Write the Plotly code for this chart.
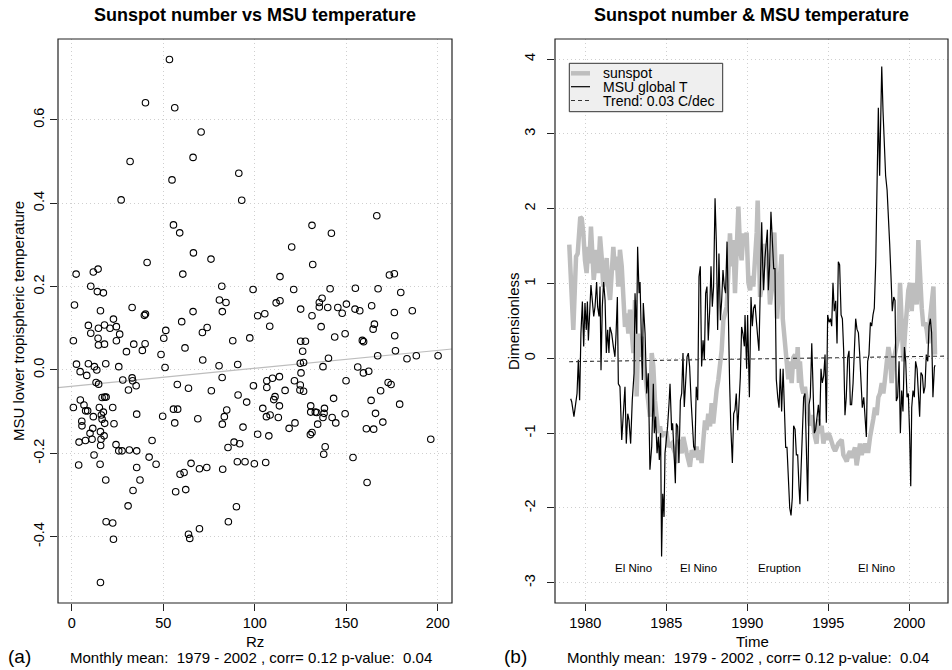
import plotly.graph_objects as go

W, H = 952, 670
FONT = "Liberation Sans, Arial, Helvetica, sans-serif"

# ---------------- Panel (a): scatter of Rz vs MSU temperature ----------------
rz = [53.4, 40.3, 56.3, 70.7, 66.3, 31.9, 54.8, 91.3, 27.0, 55.6, 59.0, 66.5, 76.1, 41.2, 2.4, 11.8,
      14.4, 60.7, 10.4, 14.0, 17.3, 82.0, 1.5, 80.7, 84.3, 15.7, 33.0, 66.3, 82.3, 39.7, 40.3, 22.8,
      9.1, 10.4, 14.6, 17.9, 20.9, 24.4, 26.2, 0.9, 14.4, 14.6, 17.9, 24.4, 29.9, 33.9, 38.6, 40.1,
      48.8, 50.3, 51.4, 60.1, 61.9, 71.4, 74.0, 71.6, 88.0, 80.5, 90.7, 2.6, 9.1, 12.4, 13.7, 4.6,
      8.2, 18.6, 25.7, 51.0, 27.9, 33.0, 33.3, 35.2, 31.0, 13.3, 14.7, 57.7, 63.8, 76.3, 82.2, 90.9,
      0.9, 4.7, 6.7, 7.6, 8.7, 15.1, 16.6, 18.0, 18.8, 11.8, 16.2, 17.3, 16.6, 18.0, 22.4, 23.1,
      35.5, 49.7, 55.6, 57.9, 56.3, 68.9, 82.3, 83.4, 84.7, 5.5, 5.6, 10.0, 11.5, 11.1, 7.5, 4.0,
      15.7, 17.7, 16.0, 15.8, 24.2, 25.7, 27.5, 31.5, 35.5, 43.9, 42.3, 46.1, 12.2, 3.8, 15.5, 35.5,
      18.6, 37.3, 33.5, 30.8, 56.8, 59.2, 61.4, 62.3, 65.2, 69.8, 73.8, 82.5, 88.7, 85.4, 90.5, 90.0,
      85.6, 18.8, 22.4, 22.8, 63.8, 64.5, 69.8, 15.7,
      92.9, 166.7, 131.3, 141.9, 120.2, 131.7, 113.8, 173.6, 176.3, 99.1, 121.3, 141.2, 155.0, 167.4,
      179.8, 111.7, 113.8, 136.8, 135.3, 135.3, 125.1, 139.9, 145.4, 150.1, 154.8, 157.4, 163.9, 186.1,
      101.6, 105.5, 131.3, 147.8, 176.3,
      108.2, 97.3, 125.1, 127.7, 126.2, 136.3, 143.7, 149.4, 158.8, 159.5, 164.7, 165.4, 176.5, 176.9,
      167.2, 183.2, 188.3, 200.2, 124.9, 126.7, 140.3, 137.3, 156.3, 159.4, 162.3, 125.3, 149.9, 99.3,
      106.6, 106.6, 109.7, 113.5, 121.7, 116.6, 124.9, 124.7, 126.7, 172.9, 174.5, 168.8, 95.6, 111.1,
      110.4, 113.5, 104.4, 106.4, 108.4, 112.9, 130.6, 130.6, 133.1, 133.9, 138.1, 137.9, 137.3, 143.1,
      142.3, 144.3, 149.4, 134.4, 163.6, 166.0, 179.2, 170.0, 93.6, 122.0, 118.8, 131.3, 130.4, 101.6,
      107.7, 161.0, 165.0, 196.2, 91.8, 138.5, 137.7, 153.7, 94.7, 99.8, 106.0, 161.4]

msu_t = [0.745, 0.641, 0.629, 0.571, 0.510, 0.500, 0.456, 0.472, 0.408, 0.348, 0.329, 0.281, 0.266, 0.258, 0.230, 0.235,
         0.242, 0.230, 0.201, 0.188, 0.185, 0.201, 0.156, 0.168, 0.162, 0.142, 0.150, 0.140, 0.140, 0.131, 0.134, 0.122,
         0.107, 0.088, 0.100, 0.108, 0.100, 0.104, 0.086, 0.070, 0.076, 0.060, 0.062, 0.070, 0.044, 0.062, 0.047, 0.063,
         0.037, 0.076, 0.095, 0.116, 0.053, 0.090, 0.102, 0.024, 0.070, 0.010, 0.013, 0.014, 0.015, 0.008, 0.000, -0.004,
         -0.013, 0.015, 0.008, 0.006, -0.024, -0.019, -0.026, -0.038, -0.048, -0.030, -0.034, -0.035, -0.044, -0.050, -0.018, -0.060,
         -0.090, -0.072, -0.084, -0.098, -0.098, -0.090, -0.066, -0.065, -0.065, -0.112, -0.108, -0.101, -0.118, -0.128, -0.090, -0.129,
         -0.106, -0.111, -0.094, -0.094, -0.127, -0.117, -0.130, -0.112, -0.096, -0.123, -0.134, -0.152, -0.140, -0.166, -0.169, -0.173,
         -0.148, -0.158, -0.166, -0.181, -0.179, -0.194, -0.194, -0.192, -0.194, -0.169, -0.209, -0.226, -0.204, -0.228, -0.226, -0.234,
         -0.264, -0.264, -0.289, -0.326, -0.292, -0.250, -0.246, -0.287, -0.224, -0.237, -0.234, -0.238, -0.173, -0.186, -0.220, -0.328,
         -0.364, -0.364, -0.367, -0.406, -0.394, -0.404, -0.381, -0.510,
         0.407, 0.370, 0.347, 0.328, 0.295, 0.253, 0.224, 0.228, 0.231, 0.193, 0.193, 0.195, 0.196, 0.195,
         0.186, 0.161, 0.166, 0.172, 0.162, 0.151, 0.146, 0.150, 0.150, 0.158, 0.146, 0.142, 0.154, 0.142,
         0.130, 0.135, 0.130, 0.136, 0.138,
         0.105, 0.077, 0.069, 0.069, 0.045, 0.104, 0.079, 0.087, 0.071, 0.068, 0.098, 0.110, 0.082, 0.046,
         0.034, 0.027, 0.034, 0.034, 0.016, 0.018, 0.028, 0.008, 0.007, -0.007, -0.003, -0.007, -0.026, -0.038,
         -0.026, -0.042, -0.020, -0.016, -0.026, -0.049, -0.036, -0.048, -0.051, -0.030, -0.035, -0.050, -0.077, -0.064,
         -0.071, -0.086, -0.092, -0.112, -0.108, -0.114, -0.086, -0.101, -0.101, -0.102, -0.092, -0.104, -0.114, -0.068,
         -0.114, -0.127, -0.105, -0.130, -0.073, -0.104, -0.082, -0.125, -0.137, -0.127, -0.140, -0.150, -0.155, -0.154,
         -0.158, -0.141, -0.142, -0.166, -0.177, -0.184, -0.202, -0.210, -0.220, -0.225, -0.222, -0.270]

fit_intercept = -0.039
fit_slope = 0.00043

rz_ticks = [0, 50, 100, 150, 200]
msu_ticks = [-0.4, -0.2, 0.0, 0.2, 0.4, 0.6]
msu_ticktext = ["-0.4", "-0.2", "0.0", "0.2", "0.4", "0.6"]

# ---------------- Panel (b): standardized time series ----------------
ss_time = [1979.01, 1979.10, 1979.26, 1979.36, 1979.43, 1979.53, 1979.61, 1979.69, 1979.78, 1979.88, 1979.98,
           1980.08, 1980.19, 1980.25, 1980.35, 1980.43, 1980.52, 1980.60, 1980.70, 1980.80, 1980.91, 1981.01,
           1981.11, 1981.22, 1981.32, 1981.42, 1981.53, 1981.63, 1981.73, 1981.83, 1981.94, 1982.04, 1982.14,
           1982.25, 1982.35, 1982.45, 1982.55, 1982.66, 1982.76, 1982.86, 1982.97, 1983.07, 1983.17, 1983.27,
           1983.38, 1983.48, 1983.58, 1983.69, 1983.79, 1983.89, 1983.99, 1984.10, 1984.20, 1984.30, 1984.41,
           1984.51, 1984.61, 1984.71, 1984.82, 1985.02, 1985.13, 1985.33, 1985.54, 1985.64, 1985.74, 1985.85,
           1985.95, 1986.05, 1986.15, 1986.26, 1986.36, 1986.46, 1986.57, 1986.67, 1986.77, 1986.87, 1986.98,
           1987.08, 1987.18, 1987.29, 1987.39, 1987.49, 1987.59, 1987.70, 1987.80, 1987.90, 1988.01, 1988.11,
           1988.21, 1988.31, 1988.42, 1988.52, 1988.62, 1988.73, 1988.83, 1988.93, 1989.04, 1989.14, 1989.24,
           1989.34, 1989.45, 1989.55, 1989.65, 1989.76,
           1989.86, 1989.96, 1990.07, 1990.17, 1990.27, 1990.37, 1990.48, 1990.58, 1990.64, 1990.72, 1990.79,
           1990.89, 1990.99, 1991.09, 1991.20, 1991.30, 1991.40, 1991.51, 1991.61, 1991.67, 1991.75, 1991.84,
           1991.92, 1992.02, 1992.12, 1992.19, 1992.29, 1992.37, 1992.45, 1992.53, 1992.64, 1992.74, 1992.84,
           1992.95, 1993.05, 1993.11, 1993.19, 1993.25, 1993.36, 1993.46, 1993.56, 1993.67, 1993.77, 1993.87,
           1993.98, 1994.08, 1994.18, 1994.28, 1994.39, 1994.49, 1994.59, 1994.70, 1994.80, 1994.90, 1995.00,
           1995.11, 1995.21, 1995.31, 1995.42, 1995.62, 1995.83, 1995.93, 1996.03, 1996.14, 1996.24, 1996.34,
           1996.44, 1996.55, 1996.65, 1996.75, 1996.86, 1996.96, 1997.06, 1997.16, 1997.27, 1997.37, 1997.47,
           1997.58, 1997.68, 1997.78, 1997.88, 1997.99, 1998.09, 1998.19, 1998.30, 1998.40, 1998.50, 1998.60,
           1998.71, 1998.81, 1998.91, 1999.02, 1999.12, 1999.22, 1999.33, 1999.43, 1999.53, 1999.63, 1999.74,
           1999.84, 1999.94, 2000.05, 2000.15, 2000.25, 2000.35, 2000.46, 2000.56, 2000.66, 2000.77, 2000.87,
           2000.97, 2001.07, 2001.18, 2001.28, 2001.38, 2001.49, 2001.59]
ss_value = [1.52, 1.00, 0.38, 0.96, 1.36, 1.40, 1.67, 1.89, 1.87, 1.67, 1.31,
            1.14, 1.49, 1.27, 1.76, 1.36, 1.05, 1.23, 1.45, 1.14, 1.63, 1.36,
            0.96, 1.14, 1.34, 0.96, 0.78, 1.14, 1.49, 1.18, 1.36, 0.96, 1.45,
            1.23, 0.69, 0.42, 0.60, 0.33, 0.65, 0.33, 0.07, 0.78, -0.51, 0.33,
            0.02, 0.29, -0.07, -0.20, -0.42, -0.56, -0.78, 0.07, -0.11, -0.56, -0.78,
            -1.00, -0.91, -1.05, -1.00, -1.00, -1.18, -1.14, -1.27, -1.40, -1.09, -1.23,
            -1.27, -1.05, -1.18, -1.27, -1.36, -1.45, -1.23, -1.27, -1.32, -1.18, -1.36,
            -1.23, -1.40, -1.09, -0.83, -0.96, -0.74, -0.91, -0.60, -0.87, -0.56, -0.42,
            -0.29, -0.11, 0.11, 0.51, 0.60, 0.69, 1.14, 1.67, 1.23, 1.58, 0.87,
            1.58, 2.03, 1.49, 1.31, 1.67,
            1.58, 1.68, 1.01, 0.91, 1.10, 0.96, 1.29, 1.68, 2.11, 1.39, 0.82,
            0.96, 1.29, 1.53, 1.39, 1.20, 0.72, 0.91, 1.58, 1.68, 1.15, 0.53,
            0.82, 1.20, 1.39, 0.53, 0.29, 0.05, -0.04, -0.28, -0.04, -0.33, 0.01,
            0.05, -0.14, 0.15, -0.33, -0.04, -0.38, -0.47, -0.38, -0.57, -0.71, -0.90,
            -0.76, -0.95, -1.05, -1.14, -0.81, -1.00, -0.90, -1.14, -1.00, -1.09, -1.00,
            -1.05, -1.14, -1.19, -1.24, -1.14, -1.09, -1.29, -1.33, -1.38, -1.29, -1.24,
            -1.33, -1.26, -1.19, -1.43, -1.24, -1.14, -1.29, -1.19, -1.14, -1.24, -1.24,
            -1.05, -0.95, -0.81, -0.66, -0.76, -0.52, -0.47, -0.33, -0.47, -0.28, -0.04,
            0.15, 0.01, -0.33, -0.04, 0.05, 0.20, 0.29, 1.01, 0.53, -0.04, 0.34,
            0.72, 0.91, 1.01, 0.63, 1.01, 0.82, 0.72, 1.58, 1.10, 0.67, 0.43,
            0.48, 0.39, 0.20, 0.53, 0.77, 0.96, 0.05]

msu_time = [1979.10, 1979.16, 1979.30, 1979.41, 1979.49, 1979.57, 1979.65, 1979.73, 1979.82, 1979.90, 1979.98,
            1980.06, 1980.13, 1980.19, 1980.27, 1980.35, 1980.43, 1980.52, 1980.60, 1980.70, 1980.76, 1980.85,
            1980.91, 1980.97, 1981.05, 1981.13, 1981.22, 1981.30, 1981.38, 1981.46, 1981.52, 1981.63, 1981.73,
            1981.83, 1981.90, 1981.98, 1982.04, 1982.14, 1982.25, 1982.35, 1982.45, 1982.53, 1982.62, 1982.70,
            1982.80, 1982.90, 1983.01, 1983.07, 1983.17, 1983.23, 1983.32, 1983.38, 1983.44, 1983.52, 1983.58,
            1983.69, 1983.79, 1983.89, 1983.99, 1984.10, 1984.20, 1984.26, 1984.34, 1984.43, 1984.51, 1984.57,
            1984.65, 1984.71, 1984.78, 1984.86, 1984.92, 1985.00, 1985.08, 1985.17, 1985.23, 1985.33, 1985.39,
            1985.48, 1985.56, 1985.62, 1985.70, 1985.78, 1985.87, 1985.95, 1986.03, 1986.11, 1986.20, 1986.28,
            1986.36, 1986.44, 1986.53, 1986.61, 1986.69, 1986.77, 1986.85, 1986.94, 1987.02, 1987.10, 1987.18,
            1987.27, 1987.35, 1987.43, 1987.51, 1987.59, 1987.68, 1987.76, 1987.84, 1987.92, 1988.01, 1988.09,
            1988.17, 1988.25, 1988.34, 1988.42, 1988.50, 1988.58, 1988.66, 1988.75, 1988.83, 1988.91, 1988.99,
            1989.08, 1989.16, 1989.24, 1989.32, 1989.41, 1989.49, 1989.57, 1989.65, 1989.73, 1989.82,
            1989.86, 1989.96, 1990.02, 1990.13, 1990.23, 1990.31, 1990.39, 1990.48, 1990.56, 1990.64, 1990.72,
            1990.81, 1990.89, 1990.95, 1991.01, 1991.09, 1991.18, 1991.24, 1991.30, 1991.38, 1991.46, 1991.55,
            1991.63, 1991.71, 1991.79, 1991.88, 1991.96, 1992.04, 1992.12, 1992.21, 1992.29, 1992.37, 1992.45,
            1992.53, 1992.62, 1992.70, 1992.78, 1992.86, 1992.95, 1993.03, 1993.11, 1993.19, 1993.25, 1993.32,
            1993.40, 1993.48, 1993.56, 1993.65, 1993.73, 1993.81, 1993.89, 1993.98, 1994.06, 1994.14, 1994.22,
            1994.30, 1994.39, 1994.47, 1994.55, 1994.63, 1994.72, 1994.80, 1994.88, 1994.96, 1995.05, 1995.13,
            1995.21, 1995.29, 1995.37, 1995.46, 1995.54, 1995.62, 1995.70, 1995.79, 1995.87, 1995.95, 1996.03,
            1996.11, 1996.20, 1996.28, 1996.36, 1996.44, 1996.53, 1996.61, 1996.69, 1996.77, 1996.86, 1996.94,
            1997.02, 1997.10, 1997.19, 1997.27, 1997.35, 1997.43, 1997.51, 1997.60, 1997.68, 1997.76, 1997.84,
            1997.93, 1998.01, 1998.09, 1998.17, 1998.23, 1998.30, 1998.38, 1998.46, 1998.54, 1998.63, 1998.71,
            1998.79, 1998.87, 1998.95, 1999.04, 1999.12, 1999.20, 1999.28, 1999.37, 1999.45, 1999.53, 1999.61,
            1999.70, 1999.78, 1999.86, 1999.94, 2000.02, 2000.09, 2000.15, 2000.23, 2000.31, 2000.39, 2000.48,
            2000.56, 2000.64, 2000.72, 2000.81, 2000.89, 2000.97, 2001.05, 2001.14, 2001.22, 2001.30, 2001.38,
            2001.46, 2001.55, 2001.59]
msu_value = [-0.54, -0.58, -0.78, -0.58, -0.47, -0.02, -0.56, 0.33, 0.76, 0.16, 0.74,
             0.38, 0.76, 0.24, 0.69, 0.98, 0.78, 0.56, 0.69, 1.02, 0.69, 0.56,
             0.96, -0.16, 0.69, 1.02, 0.78, 0.07, 0.38, 0.07, 0.42, 0.33, 0.16,
             0.02, 0.33, 0.82, -0.34, -0.38, -1.09, -0.65, -0.38, -1.14, -0.74, -0.83,
             -1.14, -0.56, -0.20, 0.87, 0.33, 1.49, 0.87, 1.02, 0.33, -0.29, 0.74,
             0.33, -0.47, -0.20, -1.49, -1.18, -0.34, -1.00, -0.78, -1.27, -1.05, -1.36,
             -1.00, -2.65, -1.81, -2.12, -1.27, -1.09, -0.91, -0.60, -0.34, -0.96, -0.87,
             -1.27, -1.67, -0.87, -0.91, -1.40, -0.56, -0.47, 0.07, -0.65, -0.25, 0.02,
             0.07, -0.11, -0.56, -0.96, -1.18, -1.23, -0.38, -0.56, 1.09, 1.23, -0.11,
             0.24, -0.02, 0.87, 0.96, 0.24, 0.65, 1.23, 0.69, 0.96, 2.14, 1.54,
             0.38, 1.40, 0.51, 0.78, 1.18, 0.96, 0.87, 1.56, 0.38, -0.34, -0.96,
             -1.40, -0.74, -0.69, -0.47, -0.96, -0.60, -0.25, 0.42, 0.33, 0.16,
             0.58, -0.14, 0.58, -0.52, 0.82, 0.43, 0.67, 0.72, 0.43, 0.29, 0.10,
             0.82, 1.82, 1.25, 0.91, 1.34, 1.53, 1.72, 0.91, 1.25, 1.96, 1.58,
             1.20, 1.20, -0.28, -0.52, -0.66, -0.14, -0.71, -0.14, -0.76, -1.19, -1.19,
             -1.62, -2.00, -2.10, -1.86, -0.90, -0.95, -1.29, -1.29, -1.71, -1.95, -1.48,
             -0.95, -0.52, -0.47, -1.24, -1.91, -0.62, -0.52, 0.20, -0.28, -1.00, -0.95,
             -0.81, -0.62, -0.90, -0.14, -0.33, -0.23, 0.05, -0.86, 0.58, 0.48, 0.53,
             0.43, 1.01, 0.63, 0.77, 0.20, 1.29, 1.25, 0.58, 0.53, 0.10, -0.76,
             -0.52, 0.01, 0.10, -0.62, -0.62, -0.33, 0.10, 0.53, 0.39, 0.34, 0.05,
             -0.38, -0.66, -0.52, -0.76, -1.05, -0.04, 0.05, 0.48, 0.43, 0.58, 0.67,
             1.29, 2.35, 3.35, 2.44, 3.11, 3.90, 3.30, 2.82, 2.44, 2.25, 1.77,
             1.53, 1.10, 0.63, 0.82, 0.77, -0.57, -0.52, -0.04, -1.00, -0.43, -0.71,
             0.15, -0.04, -0.52, -0.47, -1.00, -1.71, -0.66, -0.43, -0.52, -0.04, -0.14,
             -0.43, -0.78, -0.19, -0.23, -0.47, -0.38, 0.05, -0.04, 0.43, 0.53, 0.34,
             -0.52, -0.12, -0.09]

trend_time = [1979.0, 2002.3]
trend_value = [-0.045, 0.03]

event_labels = ["El Nino", "El Nino", "Eruption", "El Nino"]
event_time = [1983.0, 1987.0, 1992.0, 1998.0]
event_level = -2.8

year_ticks = [1980, 1985, 1990, 1995, 2000]
dim_ticks = [-3, -2, -1, 0, 1, 2, 3, 4]
dim_ticktext = ["-3", "-2", "-1", "0", "1", "2", "3", "4"]

legend_labels = ["sunspot", "MSU global T", "Trend: 0.03 C/dec"]
subtitle = "Monthly mean:\u00a0 1979 - 2002 , corr= 0.12 p-value:\u00a0 0.04"

# ---------------- layout geometry (pixels -> paper) ----------------
def pxx(x):
    return x / W

def pxy(y):
    return 1 - y / H

X1 = [-7.5, 207.8]
Y1 = [-0.559, 0.794]
X2 = [1978.13, 2002.39]
Y2 = [-3.271, 4.269]

fig = go.Figure()

# panel (a)
fig.add_trace(go.Scatter(x=X1, y=[fit_intercept + fit_slope * v for v in X1], mode="lines",
                         line=dict(color="#bdbdbd", width=1.2), xaxis="x", yaxis="y",
                         showlegend=False, hoverinfo="skip"))
fig.add_trace(go.Scatter(x=rz, y=msu_t, mode="markers",
                         marker=dict(symbol="circle-open", size=6.5, color="black", line=dict(width=1.1)),
                         xaxis="x", yaxis="y", showlegend=False))

# panel (b)
fig.add_trace(go.Scatter(x=ss_time, y=ss_value, mode="lines", line=dict(color="#bebebe", width=4.5),
                         xaxis="x2", yaxis="y2", showlegend=False))
fig.add_trace(go.Scatter(x=msu_time, y=msu_value, mode="lines", line=dict(color="black", width=1.2),
                         xaxis="x2", yaxis="y2", showlegend=False))
fig.add_trace(go.Scatter(x=trend_time, y=trend_value, mode="lines",
                         line=dict(color="#333333", width=1.1, dash="4px,3px"),
                         xaxis="x2", yaxis="y2", showlegend=False))

tickfont = dict(family=FONT, size=14.5, color="black")
axis_common = dict(showline=False, ticks="outside", ticklen=7, tickcolor="#222222", tickwidth=1,
                   showgrid=True, gridcolor="#cfcfcf", griddash="1px,3px", gridwidth=1,
                   zeroline=False, tickfont=tickfont, automargin=False, fixedrange=True)

fig.update_layout(
    width=W, height=H,
    margin=dict(l=0, r=0, t=0, b=0),
    paper_bgcolor="white", plot_bgcolor="white",
    showlegend=False,
    xaxis=dict(domain=[pxx(58), pxx(452)], range=X1, tickvals=rz_ticks, anchor="y", **axis_common),
    yaxis=dict(domain=[pxy(603), pxy(39)], range=Y1, tickvals=msu_ticks, ticktext=msu_ticktext,
               tickangle=-90, anchor="x", **axis_common),
    xaxis2=dict(domain=[pxx(555), pxx(948)], range=X2, tickvals=year_ticks, anchor="y2", **axis_common),
    yaxis2=dict(domain=[pxy(603), pxy(39)], range=Y2, tickvals=dim_ticks, ticktext=dim_ticktext,
                tickangle=-90, anchor="x2", ticklabelstandoff=6, **axis_common),
)

ann = []

def text(x, y, s, size, bold=False, angle=0, xanchor="center"):
    ann.append(dict(x=pxx(x), y=pxy(y), xref="paper", yref="paper", text=("<b>%s</b>" % s) if bold else s,
                    showarrow=False, xanchor=xanchor, yanchor="middle", textangle=angle,
                    font=dict(family=FONT, size=size, color="black")))

text(255, 15.5, "Sunspot number vs MSU temperature", 18, bold=True)
text(751.5, 15.5, "Sunspot number & MSU temperature", 18, bold=True)
text(255, 641, "Rz", 15)
text(251, 657, subtitle, 15)
text(19, 656, "(a)", 19)
text(752, 641, "Time", 15)
text(747.5, 657, subtitle, 15)
text(515, 656, "(b)", 19)
text(18, 321, "MSU lower tropispheric temperature", 15, angle=-90)
text(513, 321, "Dimensionless", 15, angle=-90)

# event labels placed in data coordinates
for lab, t in zip(event_labels, event_time):
    ann.append(dict(x=t, y=event_level, xref="x2", yref="y2", text=lab, showarrow=False,
                    xanchor="center", yanchor="middle", font=dict(family=FONT, size=11.5, color="black")))

# plot frames
shapes = []
for xr, yr in (("x domain", "y domain"), ("x2 domain", "y2 domain")):
    shapes.append(dict(type="rect", xref=xr, yref=yr, x0=0, x1=1, y0=0, y1=1,
                       line=dict(color="#222222", width=1.2), layer="above"))

# legend (drawn like R's legend box)
shapes.append(dict(type="rect", xref="paper", yref="paper", x0=pxx(569.3), x1=pxx(722.7), y0=pxy(111.7), y1=pxy(63.3),
                   line=dict(color="#333333", width=1), fillcolor="#efefef", layer="above"))
leg_y = [73.3, 86.7, 100.5]
leg_styles = [dict(color="#bebebe", width=4.5), dict(color="black", width=1.2),
              dict(color="#333333", width=1.1, dash="4px,3px")]
for yy, st, lab in zip(leg_y, leg_styles, legend_labels):
    shapes.append(dict(type="line", xref="paper", yref="paper", x0=pxx(571), x1=pxx(590), y0=pxy(yy), y1=pxy(yy),
                       line=st, layer="above"))
    ann.append(dict(x=pxx(600.5), y=pxy(yy), xref="paper", yref="paper", text=lab, showarrow=False,
                    xanchor="left", yanchor="middle", font=dict(family=FONT, size=14, color="black")))

fig.update_layout(annotations=ann, shapes=shapes)
fig.write_html("out.html", config={"displayModeBar": False},
               post_script="document.body.style.margin='0';document.body.style.overflow='hidden';")
